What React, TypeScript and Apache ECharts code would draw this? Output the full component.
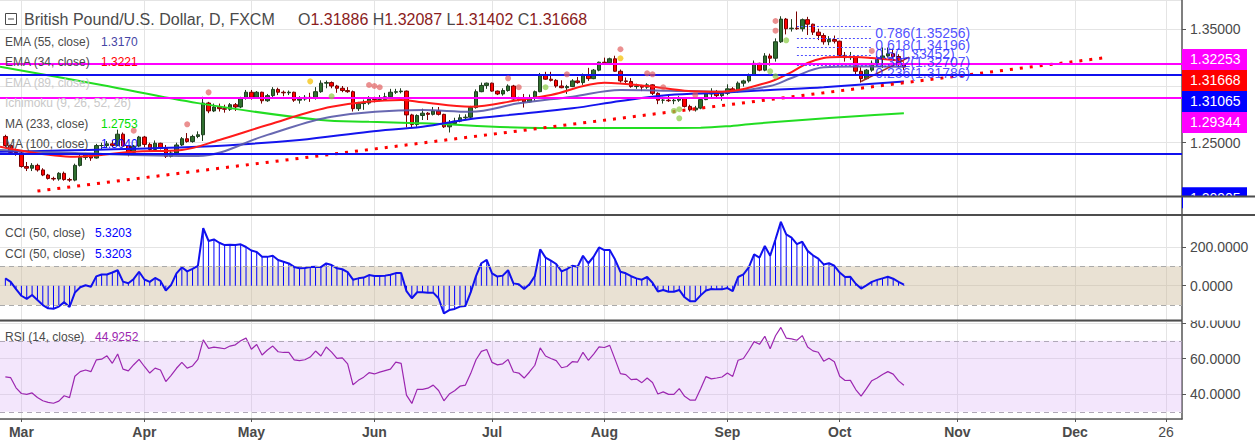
import React, { useEffect, useRef } from "react";
import * as echarts from "echarts";

// ---------- categories (weekday sessions) ----------
const N_CATS = 222; // 2017-02-23 .. 2017-12-29 (weekdays)
const DATA_OFFSET = 1; // first bar (2017-02-24) sits on category 1
const MONTHS = ["Jan", "Feb", "Mar", "Apr", "May", "Jun", "Jul", "Aug", "Sep", "Oct", "Nov", "Dec"];

function buildCategories(): string[] {
  const out: string[] = [];
  const d = new Date(Date.UTC(2017, 1, 23));
  while (out.length < N_CATS) {
    const wd = d.getUTCDay();
    if (wd !== 0 && wd !== 6) out.push(d.toISOString().slice(0, 10));
    d.setUTCDate(d.getUTCDate() + 1);
  }
  return out;
}

// ---------- price bars (from 2017-02-24) ----------
const open = [
  1.2555, 1.2475, 1.2415, 1.2410, 1.2290, 1.2275, 1.2300, 1.2260, 1.2215, 1.2185,
  1.2180, 1.2230, 1.2175, 1.2170, 1.2300, 1.2370, 1.2395, 1.2365, 1.2475, 1.2475,
  1.2490, 1.2475, 1.2575, 1.2470, 1.2415, 1.2470, 1.2550, 1.2485, 1.2440, 1.2495,
  1.2450, 1.2380, 1.2410, 1.2480, 1.2535, 1.2510, 1.2555, 1.2570, 1.2850, 1.2780,
  1.2815, 1.2800, 1.2795, 1.2835, 1.2815, 1.2890, 1.2945, 1.2900, 1.2945, 1.2870,
  1.2915, 1.2970, 1.2945, 1.2940, 1.2945, 1.2875, 1.2885, 1.2900, 1.2890, 1.2950,
  1.3025, 1.3030, 1.3000, 1.2980, 1.2960, 1.2950, 1.2800, 1.2845, 1.2850, 1.2885,
  1.2880, 1.2880, 1.2905, 1.2945, 1.2950, 1.2955, 1.2745, 1.2660, 1.2740, 1.2760,
  1.2750, 1.2780, 1.2750, 1.2640, 1.2670, 1.2690, 1.2720, 1.2725, 1.2810, 1.2950,
  1.3005, 1.3025, 1.2955, 1.2930, 1.2960, 1.3000, 1.2885, 1.2880, 1.2860, 1.2890,
  1.2950, 1.3100, 1.3060, 1.3050, 1.3000, 1.2985, 1.2995, 1.3045, 1.3030, 1.3100,
  1.3065, 1.3140, 1.3210, 1.3205, 1.3240, 1.3130, 1.3045, 1.3040, 1.2995, 1.3000,
  1.2990, 1.3010, 1.2935, 1.2875, 1.2875, 1.2870, 1.2875, 1.2895, 1.2820, 1.2790,
  1.2805, 1.2880, 1.2930, 1.2950, 1.2915, 1.2935, 1.2975, 1.2950, 1.3025, 1.3045,
  1.3095, 1.3200, 1.3140, 1.3265, 1.3245, 1.3390, 1.3590, 1.3505, 1.3510, 1.3505,
  1.3585, 1.3545, 1.3475, 1.3445, 1.3390, 1.3410, 1.3395, 1.3270, 1.3250, 1.3255,
  1.3130, 1.3065, 1.3140, 1.3200, 1.3235, 1.3265, 1.3285, 1.3260, 1.31886,
];
const high = [
  1.2570, 1.2485, 1.2450, 1.2420, 1.2330, 1.2320, 1.2315, 1.2275, 1.2225, 1.2200,
  1.2240, 1.2245, 1.2190, 1.2315, 1.2405, 1.2410, 1.2400, 1.2490, 1.2500, 1.2515,
  1.2520, 1.2615, 1.2590, 1.2480, 1.2480, 1.2560, 1.2560, 1.2500, 1.2520, 1.2500,
  1.2480, 1.2430, 1.2500, 1.2550, 1.2585, 1.2570, 1.2600, 1.2905, 1.2860, 1.2845,
  1.2845, 1.2835, 1.2850, 1.2850, 1.2905, 1.2965, 1.2965, 1.2955, 1.2950, 1.2930,
  1.2990, 1.2985, 1.2960, 1.2960, 1.2950, 1.2910, 1.2920, 1.2940, 1.2990, 1.3050,
  1.3048, 1.3040, 1.3010, 1.3000, 1.2990, 1.2960, 1.2860, 1.2880, 1.2910, 1.2905,
  1.2920, 1.2940, 1.2975, 1.2975, 1.2980, 1.2960, 1.2755, 1.2750, 1.2800, 1.2770,
  1.2815, 1.2815, 1.2755, 1.2700, 1.2720, 1.2750, 1.2750, 1.2825, 1.2970, 1.3030,
  1.3030, 1.3030, 1.2960, 1.2980, 1.3015, 1.3010, 1.2905, 1.2930, 1.2925, 1.2960,
  1.3115, 1.3125, 1.3125, 1.3060, 1.3050, 1.3010, 1.3060, 1.3080, 1.3110, 1.3160,
  1.3150, 1.3215, 1.3250, 1.3250, 1.3267, 1.3145, 1.3075, 1.3070, 1.3020, 1.3010,
  1.3025, 1.3015, 1.2945, 1.2905, 1.2920, 1.2900, 1.2910, 1.2900, 1.2835, 1.2825,
  1.2895, 1.2940, 1.2980, 1.2965, 1.2945, 1.3015, 1.2990, 1.3040, 1.3055, 1.3110,
  1.3225, 1.3205, 1.3290, 1.3285, 1.3420, 1.3615, 1.3600, 1.3590, 1.3657, 1.3595,
  1.3610, 1.3550, 1.3505, 1.3465, 1.3440, 1.3445, 1.3400, 1.3300, 1.3300, 1.3260,
  1.3165, 1.3150, 1.3225, 1.3265, 1.3340, 1.3340, 1.3320, 1.3280, 1.32087,
];
const low = [
  1.2450, 1.2400, 1.2385, 1.2280, 1.2250, 1.2250, 1.2245, 1.2205, 1.2175, 1.2165,
  1.2165, 1.2165, 1.2155, 1.2160, 1.2290, 1.2350, 1.2340, 1.2360, 1.2440, 1.2455,
  1.2460, 1.2470, 1.2460, 1.2380, 1.2400, 1.2460, 1.2460, 1.2420, 1.2430, 1.2440,
  1.2365, 1.2370, 1.2390, 1.2470, 1.2500, 1.2500, 1.2540, 1.2515, 1.2760, 1.2770,
  1.2775, 1.2765, 1.2780, 1.2780, 1.2805, 1.2880, 1.2880, 1.2890, 1.2845, 1.2860,
  1.2900, 1.2920, 1.2910, 1.2920, 1.2860, 1.2845, 1.2870, 1.2860, 1.2880, 1.2940,
  1.2980, 1.2980, 1.2940, 1.2945, 1.2940, 1.2775, 1.2780, 1.2790, 1.2835, 1.2855,
  1.2865, 1.2875, 1.2890, 1.2930, 1.2935, 1.2635, 1.2635, 1.2640, 1.2700, 1.2700,
  1.2740, 1.2740, 1.2630, 1.2590, 1.2660, 1.2680, 1.2705, 1.2710, 1.2800, 1.2945,
  1.2975, 1.2950, 1.2920, 1.2915, 1.2950, 1.2880, 1.2865, 1.2810, 1.2855, 1.2870,
  1.2945, 1.3055, 1.3040, 1.2985, 1.2980, 1.2930, 1.2990, 1.3020, 1.3010, 1.3045,
  1.3060, 1.3130, 1.3190, 1.3185, 1.3125, 1.3030, 1.3020, 1.2985, 1.2975, 1.2955,
  1.2975, 1.2920, 1.2840, 1.2845, 1.2860, 1.2840, 1.2860, 1.2810, 1.2775, 1.2775,
  1.2795, 1.2875, 1.2900, 1.2890, 1.2870, 1.2920, 1.2940, 1.2945, 1.2995, 1.3030,
  1.3090, 1.3130, 1.3130, 1.3180, 1.3215, 1.3380, 1.3455, 1.3480, 1.3495, 1.3480,
  1.3450, 1.3450, 1.3405, 1.3365, 1.3360, 1.3375, 1.3250, 1.3215, 1.3230, 1.3100,
  1.3030, 1.3060, 1.3125, 1.3170, 1.3160, 1.3250, 1.3245, 1.3165, 1.31402,
];
const close = [
  1.2475, 1.2415, 1.2410, 1.2290, 1.2275, 1.2300, 1.2260, 1.2215, 1.2185, 1.2180,
  1.2230, 1.2175, 1.2170, 1.2300, 1.2370, 1.2395, 1.2365, 1.2475, 1.2475, 1.2490,
  1.2475, 1.2575, 1.2470, 1.2415, 1.2470, 1.2550, 1.2485, 1.2440, 1.2495, 1.2450,
  1.2380, 1.2410, 1.2480, 1.2535, 1.2510, 1.2555, 1.2570, 1.2850, 1.2780, 1.2815,
  1.2800, 1.2795, 1.2835, 1.2815, 1.2890, 1.2945, 1.2900, 1.2945, 1.2870, 1.2915,
  1.2970, 1.2945, 1.2940, 1.2945, 1.2875, 1.2885, 1.2900, 1.2890, 1.2950, 1.3025,
  1.3030, 1.3000, 1.2980, 1.2960, 1.2950, 1.2800, 1.2845, 1.2850, 1.2885, 1.2880,
  1.2880, 1.2905, 1.2945, 1.2950, 1.2955, 1.2745, 1.2660, 1.2740, 1.2760, 1.2750,
  1.2780, 1.2750, 1.2640, 1.2670, 1.2690, 1.2720, 1.2725, 1.2810, 1.2950, 1.3005,
  1.3025, 1.2955, 1.2930, 1.2960, 1.3000, 1.2885, 1.2880, 1.2860, 1.2890, 1.2950,
  1.3100, 1.3060, 1.3050, 1.3000, 1.2985, 1.2995, 1.3045, 1.3030, 1.3100, 1.3065,
  1.3140, 1.3210, 1.3205, 1.3240, 1.3130, 1.3045, 1.3040, 1.2995, 1.3000, 1.2990,
  1.3010, 1.2935, 1.2875, 1.2875, 1.2870, 1.2875, 1.2895, 1.2820, 1.2790, 1.2805,
  1.2880, 1.2930, 1.2950, 1.2915, 1.2935, 1.2975, 1.2950, 1.3025, 1.3045, 1.3095,
  1.3200, 1.3140, 1.3265, 1.3245, 1.3390, 1.3590, 1.3505, 1.3510, 1.3505, 1.3585,
  1.3545, 1.3475, 1.3445, 1.3390, 1.3410, 1.3395, 1.3270, 1.3250, 1.3255, 1.3130,
  1.3065, 1.3140, 1.3200, 1.3235, 1.3265, 1.3285, 1.3260, 1.3190, 1.31668,
];

// ---------- moving averages: [category index, value] ----------
const ema34 = [[0, 1.2465], [14, 1.2377], [25, 1.2421], [34, 1.2436], [41, 1.2524], [50, 1.2656], [62, 1.2817], [75, 1.2877], [79, 1.2856], [88, 1.2817], [97, 1.2877], [103, 1.2921], [113, 1.3029], [122, 1.2994], [128, 1.2959], [135, 1.2950], [144, 1.3038], [148, 1.3123], [151, 1.3203], [154, 1.3247], [157, 1.3256], [160, 1.3256], [163, 1.3247], [169, 1.3221]];
const ema55 = [[0, 1.2436], [14, 1.2409], [37, 1.2383], [50, 1.2569], [62, 1.2729], [79, 1.2788], [88, 1.2773], [97, 1.2847], [107, 1.2906], [116, 1.2965], [125, 1.2959], [135, 1.2950], [144, 1.3000], [148, 1.3071], [154, 1.3165], [160, 1.3172], [169, 1.3170]];
const ma100 = [[0, 1.2421], [37, 1.2465], [56, 1.2524], [69, 1.2597], [79, 1.2641], [88, 1.2709], [97, 1.2753], [107, 1.2803], [116, 1.2868], [125, 1.2921], [135, 1.2941], [144, 1.2965], [154, 1.2989], [169, 1.3040]];
const ma233 = [[0, 1.3170], [19, 1.3008], [37, 1.2849], [60, 1.2700], [69, 1.2685], [75, 1.2676], [79, 1.2671], [101, 1.2630], [121, 1.2630], [131, 1.2632], [136, 1.2645], [141, 1.2668], [150, 1.2700], [160, 1.2733], [169, 1.2760]];

// ---------- drawings ----------
const trendLine = [[7, 1.2074], [207, 1.3252]];
const shortTrend = [[161, 1.3040], [170, 1.3255]];
const magentaLevels = [1.32253, 1.29344];
const blueLevels = [1.3120, 1.2356];
const fibLevels = [1.35256, 1.34196, 1.33452, 1.32707, 1.31786];
const fibRatios = ["0.786", "0.618", "0.5", "0.382", "0.236"];
const fibRange = [149, 163];
const redDots = [[25, 1.2606], [35, 1.2662], [39, 1.2944], [69, 1.3009], [70, 1.3000], [71, 1.2989], [95, 1.3068], [97, 1.2989], [106, 1.3103], [116, 1.3324], [121, 1.3112], [122, 1.3103], [124, 1.2989], [130, 1.2921], [145, 1.3573], [145, 1.3488], [163, 1.3309]];
const greenDots = [[62, 1.2909], [102, 1.2989], [126, 1.2780], [127, 1.2795], [127, 1.2715], [144, 1.3129], [145, 1.3086], [147, 1.3403]];
const yellowDots = [[58, 1.3041], [116, 1.3244]];
const priceTags = ["1.32253", "1.31668", "1.31065", "1.29344"];
const bottomTag = "1.20905";
const hiddenPriceLabels = [1.30]; // covered by the price tags in the reference

// ---------- oscillators (from 2017-02-24) ----------
const cci = [
  38, 20, -18, -52, -68, -48, -74, -100, -117, -119,
  -108, -85, -110, -36, -8, 2, -5, 48, 58, 58,
  68, 80, 21, 13, 35, 72, 32, 20, 40, 25,
  -25, 4, 64, 95, 74, 87, 103, 297, 231, 239,
  222, 210, 211, 210, 214, 200, 182, 174, 150, 149,
  155, 133, 124, 115, 97, 90, 91, 97, 98, 96,
  115, 107, 90, 85, 70, 31, 38, 42, 55, 50,
  50, 52, 57, 65, 66, -28, -65, -34, -34, -36,
  -36, -65, -143, -126, -120, -108, -105, -35, 50, 116,
  133, 64, 47, 52, 80, 12, 7, -17, 7, 50,
  188, 145, 130, 112, 74, 86, 103, 98, 155, 116,
  150, 198, 184, 184, 135, 72, 64, 49, 38, 31,
  45, 15, -30, -22, -31, -31, -22, -60, -80, -80,
  -50, -25, -17, -19, -19, -12, -28, 45, 59, 95,
  162, 145, 205, 155, 240, 330, 265, 248, 215, 227,
  180, 157, 140, 110, 116, 103, 68, 45, 46, 10,
  -15, 2, 20, 30, 38, 46, 36, 20, 5.3203,
];
const rsi = [
  49.6, 49.2, 43.5, 40.3, 39.8, 40.6, 38.0, 36.2, 35.3, 34.8,
  36, 39, 38, 50, 52.6, 53.5, 52.6, 59.2, 59.6, 61.5,
  57.3, 62.5, 54, 53, 56.5, 59.5, 55.5, 51.8, 54.6, 53.5,
  47, 50.5, 54.5, 57.8, 54.6, 55.8, 59.5, 70.5, 65.7, 66.4,
  66, 65.5, 67, 67.7, 70, 71.5, 65.2, 67.9, 62, 64.8,
  67, 63.8, 63.4, 63.4, 59.2, 58.8, 59.3, 60.8, 64.2, 61.4,
  66.5, 63.6, 60.1, 60.4, 57, 45.2, 47.7, 49.5, 52, 51.3,
  52.3, 53.2, 54, 58, 57.3, 39.4, 34.7, 42.6, 42.6, 43.3,
  45, 42, 36.2, 40, 41.8, 44.4, 45, 51.5, 59.3, 64,
  65.1, 57.8, 56.4, 57, 59.5, 52.4, 51.8, 49, 52.4, 56.2,
  66, 61.4, 60, 58.8, 54.8, 55.5, 58.2, 58, 63.5, 59,
  62.5, 66.5, 66.2, 67.4, 59.5, 51.5, 50.9, 48.1, 48.4, 46.4,
  49, 46.5, 40, 41.2, 39.8, 39.8, 43, 38.7, 36.6, 36.5,
  43, 49.8, 48.5, 49, 49.6, 51.8, 49.9, 59, 60, 64.5,
  69.5, 68, 72.5, 65.5, 72.8, 77.5, 71.5, 71.1, 70.3, 72.9,
  66.5, 64.3, 63.5, 58.5, 60.2, 58.2, 50, 47.6, 47.7, 42.5,
  38.8, 43, 47.5, 49, 51, 52.6, 51.2, 47.4, 44.9252,
];

// ---------- styling ----------
const FONT = "'Liberation Sans', Arial, sans-serif";
const TXT = "#4a4a4a";
const AXIS = "#555555";
const GRIDC = "#e4e4e4";
const RIGHT = 73; // plot right edge at 1182

function stepFormatter(step: number, digits: number, skip: number[] = []) {
  return (v: number) => {
    const r = v / step;
    if (Math.abs(r - Math.round(r)) > 1e-6) return "";
    if (skip.some((s) => Math.abs(s - v) < 1e-6)) return "";
    return v.toFixed(digits);
  };
}

function buildOption(cats: string[]) {
  const marks = cats.map((c, i) => i > 0 && (c.slice(5, 7) !== cats[i - 1].slice(5, 7) || c === "2017-12-26"));
  const isMark = (i: number) => marks[i];
  const pad = (arr: number[]) => cats.map((_, i) => {
    const k = i - DATA_OFFSET;
    return k >= 0 && k < arr.length ? arr[k] : "-";
  });
  const candles = cats.map((_, i) => {
    const k = i - DATA_OFFSET;
    return k >= 0 && k < close.length ? [open[k], close[k], low[k], high[k]] : "-";
  });

  const xBase = (gridIndex: number) => ({
    type: "category",
    gridIndex,
    data: cats,
    boundaryGap: false,
    axisLine: { show: false },
    axisTick: { show: false },
    axisLabel: { show: false },
    splitLine: { show: true, interval: isMark, lineStyle: { color: GRIDC, width: 1 } },
  });

  const yBase = (gridIndex: number, min: number, max: number, step: number, digits: number, skip: number[] = []) => ({
    type: "value",
    gridIndex,
    position: "right",
    min,
    max,
    splitNumber: 3,
    scale: true,
    axisLine: { show: true, lineStyle: { color: AXIS, width: 1.5 } },
    axisTick: { show: true, length: 4, lineStyle: { color: AXIS } },
    axisLabel: {
      show: true, color: TXT, fontSize: 14, fontFamily: FONT, margin: 8,
      showMinLabel: false, showMaxLabel: false,
      formatter: stepFormatter(step, digits, skip),
    },
    splitLine: { show: true, lineStyle: { color: GRIDC, width: 1 } },
  });

  const mline = (data: number[][], color: string, width = 2, opacity = 1) => ({
    type: "line", xAxisIndex: 0, yAxisIndex: 0, data, symbol: "none", smooth: 0.35,
    lineStyle: { color, width, opacity }, silent: true, z: 3,
  });

  const dots = (data: number[][], color: string) => ({
    type: "scatter", xAxisIndex: 0, yAxisIndex: 0, data, symbolSize: 6,
    itemStyle: { color }, silent: true, z: 5,
  });

  const hLines = [
    ...magentaLevels.map((v) => ({ yAxis: v, lineStyle: { color: "#ff00ff", width: 2, type: "solid" } })),
    ...blueLevels.map((v) => ({ yAxis: v, lineStyle: { color: "#1010ee", width: 2, type: "solid" } })),
  ];
  const fibLines = fibLevels.map((v) => [
    { coord: [cats[fibRange[0]], v], lineStyle: { color: "#5050ff", width: 1, type: [2, 2] } },
    { coord: [cats[fibRange[1]], v] },
  ]);

  return {
    animation: false,
    backgroundColor: "#ffffff",
    grid: [
      { left: 0, right: RIGHT, top: 0, height: 196 },
      { left: 0, right: RIGHT, top: 196, height: 19 },
      { left: 0, right: RIGHT, top: 215, height: 105 },
      { left: 0, right: RIGHT, top: 321, height: 98 },
    ],
    xAxis: [
      xBase(0),
      xBase(1),
      xBase(2),
      {
        ...xBase(3),
        axisLine: { show: true, lineStyle: { color: AXIS, width: 1.5 } },
        axisTick: { show: true, interval: isMark, length: 3, lineStyle: { color: AXIS } },
        axisLabel: {
          show: true, interval: isMark, margin: 6,
          formatter: (value: string) => value === "2017-12-26" ? "{d|26}" : "{m|" + MONTHS[+value.slice(5, 7) - 1] + "}",
          rich: {
            m: { fontFamily: FONT, fontSize: 14, fontWeight: "bold", color: TXT },
            d: { fontFamily: FONT, fontSize: 14, color: TXT },
          },
        },
      },
    ],
    yAxis: [
      yBase(0, 1.2030, 1.37584, 0.05, 5, hiddenPriceLabels),
      {
        type: "value", gridIndex: 1, position: "right", min: 0, max: 1,
        axisLine: { show: true, lineStyle: { color: AXIS, width: 1.5 } },
        axisTick: { show: false }, axisLabel: { show: false }, splitLine: { show: false },
      },
      yBase(2, -177.3, 365.4, 200, 4),
      yBase(3, 25.92, 81.13, 20, 4),
    ],
    series: [
      {
        type: "candlestick", xAxisIndex: 0, yAxisIndex: 0, data: candles, barWidth: 4, silent: true, z: 2,
        itemStyle: { color: "#2f6f2f", color0: "#ff0000", borderColor: "#1f3f1f", borderColor0: "#7a0000", borderWidth: 1 },
        markLine: {
          silent: true, symbol: ["none", "none"], label: { show: false }, animation: false,
          data: [...hLines, ...fibLines],
        },
      },
      mline(ma233, "#22dd22", 2),
      mline(ma100, "#1414ee", 2),
      mline(ema55, "#5858a8", 2, 0.9),
      mline(ema34, "#ff1a1a", 2),
      {
        type: "line", xAxisIndex: 0, yAxisIndex: 0, data: trendLine, symbol: "none", silent: true, z: 4,
        lineStyle: { color: "#ff0000", width: 3, type: [3, 7] },
      },
      {
        type: "line", xAxisIndex: 0, yAxisIndex: 0, data: shortTrend, symbol: "none", silent: true, z: 4,
        lineStyle: { color: "#a3302a", width: 1.5 },
      },
      dots(redDots, "rgba(226,92,92,0.85)"),
      dots(greenDots, "rgba(140,205,70,0.9)"),
      dots(yellowDots, "#f5c518"),
      {
        type: "scatter", xAxisIndex: 0, yAxisIndex: 0, silent: true, z: 6,
        data: fibLevels.map((v) => [cats[fibRange[1]], v]),
        symbol: "circle", symbolSize: 1, itemStyle: { color: "rgba(0,0,0,0)" },
        label: {
          show: true, position: "right", distance: 3, offset: [0, 7],
          fontFamily: FONT, fontSize: 14, color: "#2323ff",
          formatter: (p: any) => fibRatios[p.dataIndex] + "(" + fibLevels[p.dataIndex].toFixed(5) + ")",
        },
      },
      // CCI pane
      {
        type: "line", xAxisIndex: 2, yAxisIndex: 2, data: [], silent: true, z: 1,
        markArea: { silent: true, itemStyle: { color: "rgba(200,180,145,0.4)" }, data: [[{ yAxis: 100 }, { yAxis: -100 }]] },
        markLine: {
          silent: true, symbol: ["none", "none"], label: { show: false },
          lineStyle: { color: "#aaaaaa", width: 1, type: [5, 4] },
          data: [{ yAxis: 100 }, { yAxis: -100 }],
        },
      },
      {
        type: "bar", xAxisIndex: 2, yAxisIndex: 2, data: pad(cci), barWidth: 1, silent: true, z: 2,
        itemStyle: { color: "#0000ff" },
      },
      {
        type: "line", xAxisIndex: 2, yAxisIndex: 2, data: pad(cci), symbol: "none", silent: true, z: 3,
        lineStyle: { color: "#1010ee", width: 2 },
      },
      // RSI pane
      {
        type: "line", xAxisIndex: 3, yAxisIndex: 3, data: pad(rsi), symbol: "none", silent: true, z: 3,
        lineStyle: { color: "#9c27b0", width: 1.2 },
        markArea: { silent: true, itemStyle: { color: "rgba(215,172,245,0.3)" }, data: [[{ yAxis: 70 }, { yAxis: 30 }]] },
        markLine: {
          silent: true, symbol: ["none", "none"], label: { show: false },
          lineStyle: { color: "#b0a8b8", width: 1, type: [5, 4] },
          data: [{ yAxis: 70 }, { yAxis: 30 }],
        },
      },
    ],
  };
}

function legendText(x: number, y: number, text: string, fill: string, size = 12) {
  return {
    type: "text", x, y, z: 60, silent: true,
    style: { text, fill, fontSize: size, fontFamily: FONT, verticalAlign: "middle", align: "left" },
  };
}

function buildGraphic(chart: any) {
  const els: any[] = [];
  // header
  els.push({ type: "rect", z: 60, silent: true, shape: { x: 5.5, y: 13.5, width: 11, height: 11 }, style: { fill: "#fff", stroke: TXT, lineWidth: 1 } });
  els.push({ type: "line", z: 61, silent: true, shape: { x1: 8, y1: 19, x2: 14, y2: 19 }, style: { stroke: TXT, lineWidth: 1 } });
  els.push(legendText(24, 19, "British Pound/U.S. Dollar, D, FXCM", TXT, 16));
  els.push({
    type: "text", x: 298, y: 19, z: 60, silent: true,
    style: {
      text: "{l|O}{v|1.31886} {l|H}{v|1.32087} {l|L}{v|1.31402} {l|C}{v|1.31668}",
      verticalAlign: "middle", fontFamily: FONT, fontSize: 16,
      rich: {
        l: { fill: TXT, fontSize: 16, fontFamily: FONT },
        v: { fill: "#8b1c1c", fontSize: 16, fontFamily: FONT },
      },
    },
  });
  const rows: [string, string, string, string][] = [
    ["EMA (55, close)", "1.3170", TXT, "#4545a5"],
    ["EMA (34, close)", "1.3221", TXT, "#ff0000"],
    ["EMA (89, close)", "", "#c9c9c9", ""],
    ["Ichimoku (9, 26, 52, 26)", "", "#c9c9c9", ""],
    ["MA (233, close)", "1.2753", TXT, "#00dd00"],
    ["MA (100, close)", "1.3040", TXT, "#1515ff"],
  ];
  rows.forEach((r, i) => {
    const y = 41.5 + i * 20.5;
    els.push(legendText(5, y, r[0], r[2]));
    if (r[1]) els.push(legendText(101, y, r[1], r[3]));
  });
  els.push(legendText(5, 232.5, "CCI (50, close)", TXT));
  els.push(legendText(95, 232.5, "5.3203", "#0000ff"));
  els.push(legendText(5, 253.5, "CCI (50, close)", TXT));
  els.push(legendText(95, 253.5, "5.3203", "#0000ff"));
  els.push(legendText(5, 337, "RSI (14, close)", TXT));
  els.push(legendText(95, 337, "44.9252", "#9c27b0"));

  // price tags on the right axis, stacked downward
  const tagColors = ["#ff00ff", "#ff0000", "#0000ff", "#ff00ff"];
  let prev = -Infinity;
  priceTags.forEach((t, i) => {
    const yNat = chart.convertToPixel({ yAxisIndex: 0 }, parseFloat(t));
    const yc = Math.max(yNat - 1, prev + 21);
    prev = yc;
    els.push({ type: "rect", z: 40, silent: true, shape: { x: 1182, y: yc - 10.5, width: 65, height: 21 }, style: { fill: tagColors[i] } });
    els.push({ type: "text", x: 1190, y: yc, z: 41, silent: true, style: { text: t, fill: "#ffffff", fontSize: 14, fontFamily: FONT, verticalAlign: "middle" } });
  });
  const yb = chart.convertToPixel({ yAxisIndex: 0 }, parseFloat(bottomTag));
  els.push({ type: "rect", z: 40, silent: true, shape: { x: 1182, y: yb - 2, width: 65, height: 21 }, style: { fill: "#0000ff" } });
  els.push({ type: "text", x: 1190, y: yb + 8.5, z: 41, silent: true, style: { text: bottomTag, fill: "#ffffff", fontSize: 14, fontFamily: FONT, verticalAlign: "middle" } });

  // covers + pane separators
  els.push({ type: "rect", z: 45, silent: true, shape: { x: 1183, y: 197, width: 72, height: 18 }, style: { fill: "#ffffff" } });
  els.push({ type: "rect", z: 45, silent: true, shape: { x: 1183, y: 300, width: 72, height: 20.5 }, style: { fill: "#ffffff" } });
  els.push({ type: "line", z: 50, silent: true, shape: { x1: 0, y1: 196.5, x2: 1255, y2: 196.5 }, style: { stroke: "#4d4d4d", lineWidth: 2 } });
  els.push({ type: "line", z: 50, silent: true, shape: { x1: 0, y1: 215, x2: 1255, y2: 215 }, style: { stroke: "#4d4d4d", lineWidth: 2 } });
  els.push({ type: "line", z: 50, silent: true, shape: { x1: 0, y1: 320.5, x2: 1182, y2: 320.5 }, style: { stroke: "#4d4d4d", lineWidth: 2 } });
  return els;
}

export default function App() {
  const ref = useRef<HTMLDivElement>(null);
  useEffect(() => {
    document.body.style.margin = "0";
    const cats = buildCategories();
    const chart = echarts.init(ref.current as HTMLDivElement, null, { renderer: "svg" });
    chart.setOption(buildOption(cats) as any);
    chart.setOption({ graphic: buildGraphic(chart) } as any);
    return () => chart.dispose();
  }, []);
  return <div ref={ref} style={{ width: 1255, height: 442 }} />;
}
